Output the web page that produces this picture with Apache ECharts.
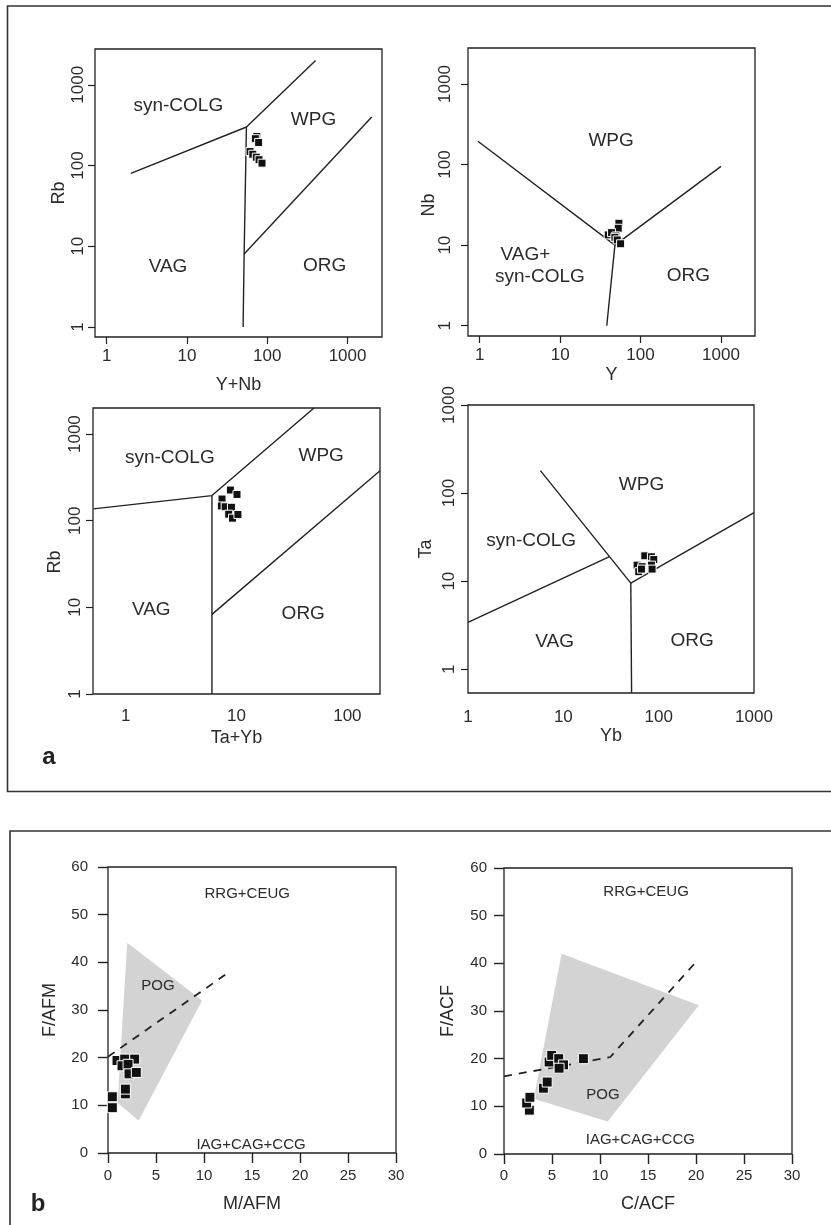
<!DOCTYPE html>
<html>
<head>
<meta charset="utf-8">
<script src="https://cdn.jsdelivr.net/npm/echarts@6/dist/echarts.min.js"></script>
<style>
html, body { margin: 0; padding: 0; background: #fff; }
#chart { width: 831px; height: 1225px; }
</style>
</head>
<body>
<div id="chart"></div>
<script>
// ---- values ----
var logTicks = [1, 10, 100, 1000];

// a1: Rb vs Y+Nb
var p1Samples = [[74, 229], [71, 215], [78, 193], [61, 149], [66, 138], [73, 127], [79, 118], [86, 107]];
var p1Lines = [
  [[2, 80], [55, 300], [400, 2000]],
  [[55, 300], [51.5, 8], [50, 1]],
  [[51.5, 8], [2000, 400]]
];
var p1Labels = [['syn-COLG', 7.8, 550], ['WPG', 377, 370], ['VAG', 5.8, 5.6], ['ORG', 517, 5.8]];

// a2: Nb vs Y
var p2Samples = [[53.8, 18.7], [52.8, 16.2], [39.6, 13.4], [43.6, 14.3], [49.4, 13], [48, 12.5], [51.3, 11.6], [56.5, 10.4]];
var p2Lines = [
  [[0.95, 195], [48, 10], [1000, 95]],
  [[48, 10], [38, 1]]
];
var p2Labels = [['WPG', 43, 200], ['VAG+', 3.7, 7.5], ['syn-COLG', 5.6, 4.05], ['ORG', 393, 4.2]];

// a3: Rb vs Ta+Yb
var p3Samples = [[8.8, 226], [10.1, 201], [7.4, 178], [7.3, 148], [7.9, 145], [9.0, 143], [8.5, 119], [9.2, 107], [10.3, 118]];
var p3Lines = [
  [[0.51, 137], [6, 195], [50, 2000]],
  [[6, 195], [6, 1]],
  [[6, 8.3], [197, 377]]
];
var p3Labels = [['syn-COLG', 2.5, 537], ['WPG', 58, 556], ['VAG', 1.7, 9.4], ['ORG', 40, 8.4]];

// a4: Ta vs Yb
var p4Samples = [[71.5, 19.4], [84, 18.9], [88.9, 17.6], [59.4, 15.2], [67, 14.6], [84, 15.2], [85.3, 13.7], [61.8, 12.8], [66, 13.7]];
var p4Lines = [
  [[1, 3.4], [30.5, 19]],
  [[5.75, 180], [51, 9.5]],
  [[51, 9.5], [52, 0.54]],
  [[51, 9.5], [1000, 60]]
];
var p4Labels = [['WPG', 66, 123], ['syn-COLG', 4.6, 28.7], ['VAG', 8.1, 2.05], ['ORG', 224, 2.1]];

// b1: F/AFM vs M/AFM
var p5Samples = [[0.94, 19.4], [1.74, 19.7], [2.78, 19.7], [1.46, 18.3], [2.09, 18.6], [2.19, 16.6], [2.95, 16.9], [1.81, 12.4], [1.81, 13.4], [0.45, 11.8], [0.45, 9.5]];
var p5Field = [[2.0, 44.1], [9.8, 32.0], [3.2, 6.8], [1.0, 10.5]];
var p5Divide = [[0, 20.2], [12.5, 37.8]];
var p5Labels = [['RRG+CEUG', 14.5, 54.4], ['POG', 5.2, 35], ['IAG+CAG+CCG', 14.9, 1.75]];

// b2: F/ACF vs C/ACF
var p6Samples = [[2.64, 9.2], [2.36, 10.7], [2.7, 11.9], [4.1, 13.8], [4.5, 15.1], [4.7, 19.3], [4.97, 20.7], [5.7, 20.0], [6.2, 18.7], [5.74, 18.0], [8.27, 20.0]];
var p6Field = [[6.0, 42.0], [20.3, 31.2], [10.8, 6.8], [3.1, 11.6]];
var p6Divide = [[0, 16.3], [11.05, 20.3], [20.1, 40.5]];
var p6Labels = [['RRG+CEUG', 14.8, 55], ['POG', 10.3, 12.5], ['IAG+CAG+CCG', 14.2, 3.0]];

var FONT = '"Liberation Sans", Arial, Helvetica, sans-serif';
var INK = '#222';
var TXT = '#2b2b2b';

function fmtLog(v) { return String(Math.round(v)); }

function logAxis(gi, min, max, o) {
  return {
    type: 'log', logBase: 10, gridIndex: gi, min: min, max: max,
    splitLine: { show: false },
    axisLine: { show: false },
    axisTick: { show: o.tick !== false, length: 7, customValues: logTicks, lineStyle: { color: INK, width: 1.2 } },
    axisLabel: { customValues: logTicks, formatter: fmtLog, fontSize: 17, color: TXT, fontFamily: FONT, margin: o.margin, rotate: o.rotate || 0 },
    name: o.name, nameLocation: 'middle', nameGap: o.gap, nameMoveOverlap: false,
    nameTextStyle: { fontSize: 18, color: TXT, fontFamily: FONT, padding: o.pad || 0 }
  };
}

function linAxis(gi, max, step, o) {
  return {
    type: 'value', gridIndex: gi, min: 0, max: max, interval: step,
    splitLine: { show: false },
    axisLine: { show: false },
    axisTick: { length: 10, lineStyle: { color: INK, width: 1.4 } },
    axisLabel: { fontSize: 15, color: TXT, fontFamily: FONT, margin: o.margin },
    name: o.name, nameLocation: 'middle', nameGap: o.gap, nameMoveOverlap: false,
    nameTextStyle: { fontSize: 18, color: TXT, fontFamily: FONT }
  };
}

function boundaries(gi, lines) {
  return lines.map(function (pts) {
    return {
      type: 'line', xAxisIndex: gi, yAxisIndex: gi, data: pts, symbol: 'none', showSymbol: false,
      lineStyle: { color: INK, width: 1.4 }, silent: true, z: 3
    };
  });
}

function samples(gi, pts, size) {
  return {
    type: 'scatter', xAxisIndex: gi, yAxisIndex: gi, data: pts, symbol: 'rect', symbolSize: size,
    itemStyle: { color: '#111', borderColor: '#fff', borderWidth: 1, opacity: 1 }, silent: true, z: 5
  };
}

function fieldArea(gi, poly) {
  return {
    type: 'custom', xAxisIndex: gi, yAxisIndex: gi, data: [poly[0]], silent: true, z: 1,
    renderItem: function (params, api) {
      return { type: 'polygon', shape: { points: poly.map(function (p) { return api.coord(p); }) }, style: { fill: '#d3d3d3' } };
    }
  };
}

function divider(gi, pts) {
  return {
    type: 'line', xAxisIndex: gi, yAxisIndex: gi, data: pts, symbol: 'none', showSymbol: false,
    lineStyle: { color: INK, width: 1.8, type: [8, 7] }, silent: true, z: 2
  };
}

function regionText(gi, labels, size) {
  return {
    type: 'custom', xAxisIndex: gi, yAxisIndex: gi, silent: true, z: 4,
    data: labels.map(function (d) { return [d[1], d[2]]; }),
    renderItem: function (params, api) {
      var d = labels[params.dataIndex];
      var p = api.coord([d[1], d[2]]);
      return {
        type: 'text', x: p[0], y: p[1],
        style: { text: d[0], fill: TXT, font: size + 'px ' + FONT, align: 'center', verticalAlign: 'middle' }
      };
    }
  };
}

var grids = [
  { left: 95, top: 49, width: 287, height: 288 },
  { left: 468, top: 48, width: 287, height: 288 },
  { left: 93, top: 408, width: 287, height: 286 },
  { left: 468, top: 405, width: 286, height: 288 },
  { left: 108, top: 867, width: 288, height: 286 },
  { left: 504, top: 868, width: 288, height: 286 }
];

var chart = echarts.init(document.getElementById('chart'), null, { renderer: 'canvas' });

var option = {
  animation: false,
  backgroundColor: '#fff',
  grid: grids.map(function (g) {
    return Object.assign({ show: true, borderColor: INK, borderWidth: 1.3, containLabel: false, outerBoundsMode: 'none' }, g);
  }),
  xAxis: [
    logAxis(0, 0.715, 2685, { name: 'Y+Nb', gap: 39, margin: 11 }),
    logAxis(1, 0.715, 2650, { name: 'Y', gap: 30, margin: 11 }),
    logAxis(2, 0.507, 197, { name: 'Ta+Yb', gap: 35, margin: 14, tick: false }),
    logAxis(3, 1, 1000, { name: 'Yb', gap: 34, margin: 16, tick: false }),
    linAxis(4, 30, 5, { name: 'M/AFM', gap: 42, margin: 15 }),
    linAxis(5, 30, 5, { name: 'C/ACF', gap: 41, margin: 14 })
  ],
  yAxis: [
    logAxis(0, 0.751, 2777, { name: 'Rb', gap: 27, margin: 8, rotate: 90 }),
    logAxis(1, 0.745, 2800, { name: 'Nb', gap: 30, margin: 14, rotate: 90, pad: [0, 26, 0, 0] }),
    logAxis(2, 1, 2000, { name: 'Rb', gap: 29, margin: 9, rotate: 90, pad: [0, 22, 0, 0] }),
    logAxis(3, 0.537, 1000, { name: 'Ta', gap: 33, margin: 10, rotate: 90 }),
    linAxis(4, 60, 10, { name: 'F/AFM', gap: 49, margin: 20 }),
    linAxis(5, 60, 10, { name: 'F/ACF', gap: 47, margin: 17 })
  ],
  series: [].concat(
    boundaries(0, p1Lines), [samples(0, p1Samples, 8), regionText(0, p1Labels, 19)],
    boundaries(1, p2Lines), [samples(1, p2Samples, 8), regionText(1, p2Labels, 19)],
    boundaries(2, p3Lines), [samples(2, p3Samples, 8), regionText(2, p3Labels, 19)],
    boundaries(3, p4Lines), [samples(3, p4Samples, 8), regionText(3, p4Labels, 19)],
    [fieldArea(4, p5Field), divider(4, p5Divide), samples(4, p5Samples, 10), regionText(4, p5Labels, 15)],
    [fieldArea(5, p6Field), divider(5, p6Divide), samples(5, p6Samples, 10), regionText(5, p6Labels, 15)]
  ),
  graphic: [
    // outer frames of part a and part b (both run off the right edge)
    { type: 'polyline', silent: true, shape: { points: [[840, 6], [7.5, 6], [7.5, 791.5], [840, 791.5]] },
      style: { stroke: '#333', lineWidth: 1.6, fill: null } },
    { type: 'polyline', silent: true, shape: { points: [[840, 831], [10, 831], [10, 1240]] },
      style: { stroke: '#333', lineWidth: 1.6, fill: null } },
    { type: 'text', silent: true, x: 49, y: 757,
      style: { text: 'a', font: 'bold 24px ' + FONT, fill: INK, align: 'center', verticalAlign: 'middle' } },
    { type: 'text', silent: true, x: 38, y: 1204,
      style: { text: 'b', font: 'bold 24px ' + FONT, fill: INK, align: 'center', verticalAlign: 'middle' } }
  ]
};

chart.setOption(option);
</script>
</body>
</html>
